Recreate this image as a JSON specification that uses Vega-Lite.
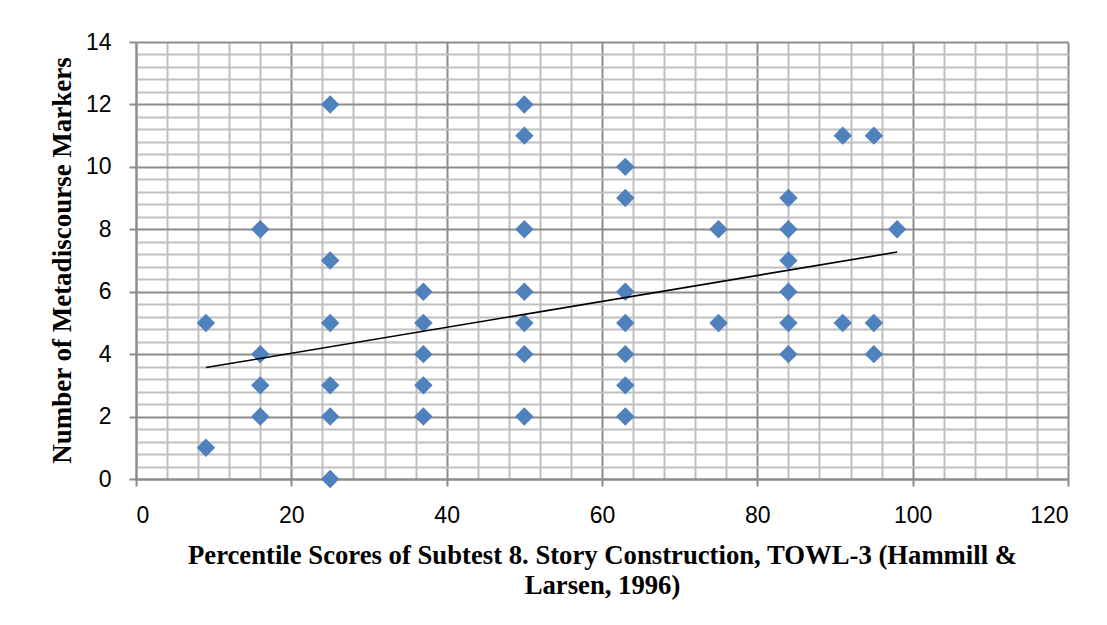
{
  "$schema": "https://vega.github.io/schema/vega-lite/v6.json",
  "width": 932,
  "height": 437,
  "autosize": "none",
  "padding": {"left": 136, "top": 42, "right": 39, "bottom": 146},
  "background": "white",
  "config": {"view": {"stroke": null}},
  "datasets": {
    "points": [
      {"score": 9, "markers": 5}, {"score": 9, "markers": 1},
      {"score": 16, "markers": 8}, {"score": 16, "markers": 4}, {"score": 16, "markers": 3}, {"score": 16, "markers": 2},
      {"score": 25, "markers": 12}, {"score": 25, "markers": 7}, {"score": 25, "markers": 5}, {"score": 25, "markers": 3}, {"score": 25, "markers": 2}, {"score": 25, "markers": 0},
      {"score": 37, "markers": 6}, {"score": 37, "markers": 5}, {"score": 37, "markers": 4}, {"score": 37, "markers": 3}, {"score": 37, "markers": 2},
      {"score": 50, "markers": 12}, {"score": 50, "markers": 11}, {"score": 50, "markers": 8}, {"score": 50, "markers": 6}, {"score": 50, "markers": 5}, {"score": 50, "markers": 4}, {"score": 50, "markers": 2},
      {"score": 63, "markers": 10}, {"score": 63, "markers": 9}, {"score": 63, "markers": 6}, {"score": 63, "markers": 5}, {"score": 63, "markers": 4}, {"score": 63, "markers": 3}, {"score": 63, "markers": 2},
      {"score": 75, "markers": 8}, {"score": 75, "markers": 5},
      {"score": 84, "markers": 9}, {"score": 84, "markers": 8}, {"score": 84, "markers": 7}, {"score": 84, "markers": 6}, {"score": 84, "markers": 5}, {"score": 84, "markers": 4},
      {"score": 91, "markers": 11}, {"score": 91, "markers": 5},
      {"score": 95, "markers": 11}, {"score": 95, "markers": 5}, {"score": 95, "markers": 4},
      {"score": 98, "markers": 8}
    ],
    "trend": [
      {"score": 9, "markers": 3.57},
      {"score": 98, "markers": 7.27}
    ]
  },
  "layer": [
    {
      "data": {"name": "points"},
      "mark": {"type": "point", "shape": "diamond", "filled": true, "size": 340, "color": "#4F81BD", "opacity": 1},
      "encoding": {
        "x": {
          "field": "score", "type": "quantitative",
          "scale": {"domain": [0, 120], "nice": false, "zero": false},
          "axis": {
            "values": [0,4,8,12,16,20,24,28,32,36,40,44,48,52,56,60,64,68,72,76,80,84,88,92,96,100,104,108,112,116,120],
            "tickCount": 200,
            "format": "d",
            "labelOverlap": false,
            "labelExpr": "datum.value % 20 === 0 ? format(datum.value, 'd') : ''",
            "grid": true,
            "gridColor": {"condition": {"test": "datum.value % 20 === 0", "value": "#8c8c8c"}, "value": "#bfbfbf"},
            "gridWidth": 2,
            "domainColor": "#8c8c8c", "domainWidth": 2,
            "tickColor": {"condition": {"test": "datum.value % 20 === 0", "value": "#8c8c8c"}, "value": "transparent"},
            "tickSize": 7, "tickWidth": 2,
            "labelFont": "Liberation Sans", "labelFontSize": 23, "labelColor": "black", "labelPadding": 18,
            "title": ["Percentile Scores of Subtest 8. Story Construction, TOWL-3 (Hammill &", "Larsen, 1996)"],
            "titleFont": "Liberation Serif", "titleFontSize": 26.7, "titleFontWeight": "bold", "titleColor": "black",
            "titleLineHeight": 30, "titleBaseline": "alphabetic", "titleY": 84, "titleX": 466
          }
        },
        "y": {
          "field": "markers", "type": "quantitative",
          "scale": {"domain": [0, 14], "nice": false},
          "axis": {
            "values": [0,0.4,0.8,1.2,1.6,2,2.4,2.8,3.2,3.6,4,4.4,4.8,5.2,5.6,6,6.4,6.8,7.2,7.6,8,8.4,8.8,9.2,9.6,10,10.4,10.8,11.2,11.6,12,12.4,12.8,13.2,13.6,14],
            "tickCount": 200,
            "labelOverlap": false,
            "labelExpr": "abs(datum.value - round(datum.value/2)*2) < 0.01 ? format(datum.value, 'd') : ''",
            "grid": true,
            "gridColor": {"condition": {"test": "abs(datum.value - round(datum.value/2)*2) < 0.01", "value": "#8c8c8c"}, "value": "#bfbfbf"},
            "gridWidth": 2,
            "domainColor": "#8c8c8c", "domainWidth": 2,
            "tickColor": {"condition": {"test": "abs(datum.value - round(datum.value/2)*2) < 0.01", "value": "#8c8c8c"}, "value": "transparent"},
            "tickSize": 7, "tickWidth": 2,
            "labelFont": "Liberation Sans", "labelFontSize": 23, "labelColor": "black", "labelPadding": 18,
            "title": "Number of Metadiscourse Markers",
            "titleFont": "Liberation Serif", "titleFontSize": 27, "titleFontWeight": "bold", "titleColor": "black",
            "titleAngle": -90, "titleX": -74, "titleY": 218, "titleAlign": "center", "titleBaseline": "middle"
          }
        }
      }
    },
    {
      "data": {"name": "trend"},
      "mark": {"type": "line", "color": "black", "strokeWidth": 1.6},
      "encoding": {
        "x": {"field": "score", "type": "quantitative"},
        "y": {"field": "markers", "type": "quantitative"}
      }
    }
  ]
}
